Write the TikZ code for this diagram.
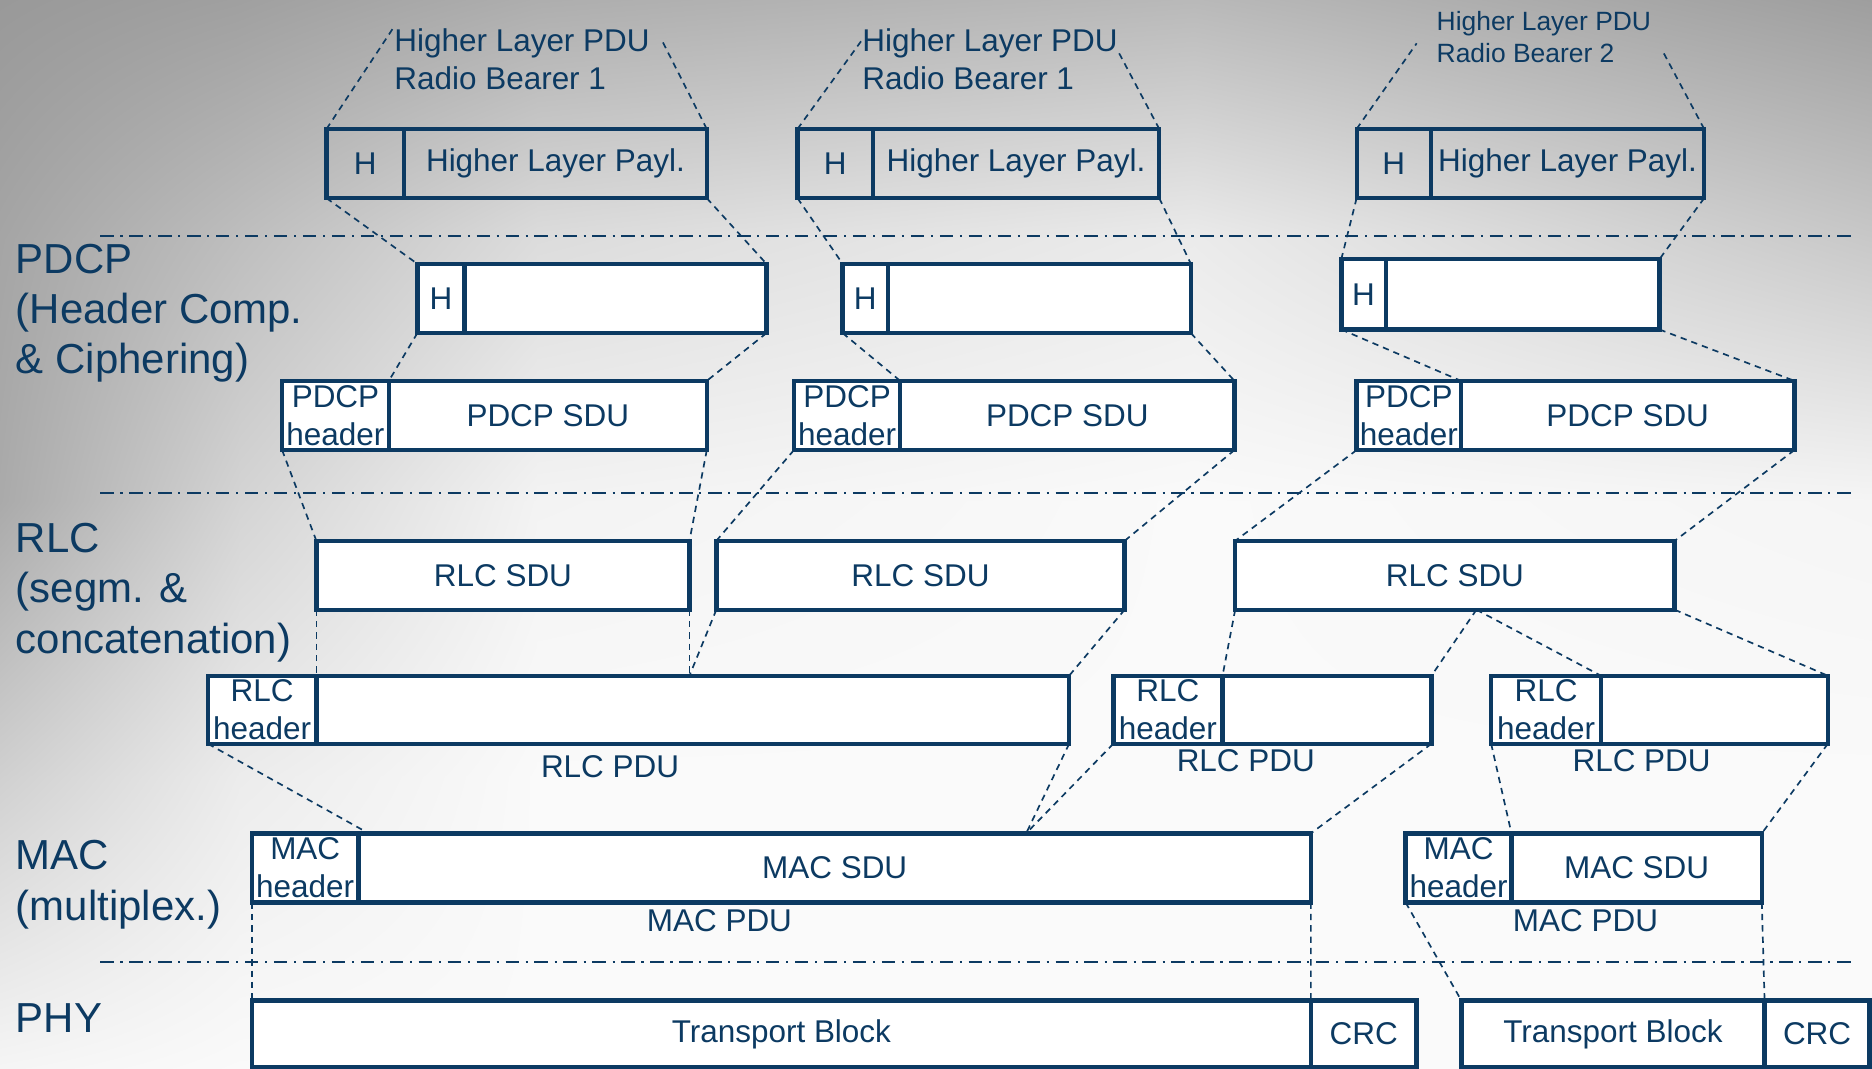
\documentclass[tikz,border=0pt]{standalone}
\usepackage{fontspec}
\setmainfont{Liberation Sans}
\usetikzlibrary{calc,shadings}
\definecolor{navy}{HTML}{0C3A62}
% background grid grays (row = y level, col = x level)
\definecolor{bg00}{gray}{0.600}\definecolor{bg01}{gray}{0.627}\definecolor{bg02}{gray}{0.682}\definecolor{bg03}{gray}{0.725}\definecolor{bg04}{gray}{0.620}
\definecolor{bg10}{gray}{0.647}\definecolor{bg11}{gray}{0.745}\definecolor{bg12}{gray}{0.863}\definecolor{bg13}{gray}{0.922}\definecolor{bg14}{gray}{0.784}
\definecolor{bg20}{gray}{0.667}\definecolor{bg21}{gray}{0.831}\definecolor{bg22}{gray}{0.953}\definecolor{bg23}{gray}{0.980}\definecolor{bg24}{gray}{0.961}
\definecolor{bg30}{gray}{0.816}\definecolor{bg31}{gray}{0.925}\definecolor{bg32}{gray}{0.980}\definecolor{bg33}{gray}{0.980}\definecolor{bg34}{gray}{0.980}
\definecolor{bg40}{gray}{0.961}\definecolor{bg41}{gray}{0.980}\definecolor{bg42}{gray}{0.980}\definecolor{bg43}{gray}{0.980}\definecolor{bg44}{gray}{0.980}
\tikzset{
  cellbox/.style={draw=navy, line width=2.1pt, fill=white, inner sep=0pt, outer sep=0pt,
    text=navy, font=\fontsize{15}{18.2}\selectfont, align=center, rectangle},
  topcell/.style={cellbox, fill=none, line width=2pt},
  geo/.style n args={4}{at={({(#1+#3)/2},{(#2+#4)/2})},
    minimum width={(#3-#1)*0.02cm}, minimum height={(#4-#2)*0.02cm}},
  conn/.style={draw=navy, line width=0.8pt, dash pattern=on 3pt off 2.4pt},
  sepline/.style={draw=navy, line width=1pt, dash pattern=on 6.4pt off 3.2pt on 1pt off 3.2pt},
  layerlbl/.style={text=navy, anchor=base west, align=left, inner sep=0pt,
    font=\fontsize{20}{23.9}\selectfont},
  pdulbl/.style={text=navy, anchor=base west, align=left, inner sep=0pt,
    font=\fontsize{15}{18.2}\selectfont},
  smallpdulbl/.style={pdulbl, font=\fontsize{12.6}{15.3}\selectfont},
  boxlbl/.style={text=navy, inner sep=0pt, font=\fontsize{15}{18.2}\selectfont},
  tile/.style n args={4}{upper left=#1, upper right=#2, lower left=#3, lower right=#4}
}
\begin{document}
\begin{tikzpicture}[x=0.02cm, y=-0.02cm]
\useasboundingbox (0,0) rectangle (1568,895);
% background
\begin{scope}
\clip (0,0) rectangle (1568,895);
\shade[tile={bg00}{bg01}{bg10}{bg11}] (0,0) rectangle (201,201);
\shade[tile={bg01}{bg02}{bg11}{bg12}] (200,0) rectangle (451,201);
\shade[tile={bg02}{bg03}{bg12}{bg13}] (450,0) rectangle (1001,201);
\shade[tile={bg03}{bg04}{bg13}{bg14}] (1000,0) rectangle (1568,201);
\shade[tile={bg10}{bg11}{bg20}{bg21}] (0,200) rectangle (201,421);
\shade[tile={bg11}{bg12}{bg21}{bg22}] (200,200) rectangle (451,421);
\shade[tile={bg12}{bg13}{bg22}{bg23}] (450,200) rectangle (1001,421);
\shade[tile={bg13}{bg14}{bg23}{bg24}] (1000,200) rectangle (1568,421);
\shade[tile={bg20}{bg21}{bg30}{bg31}] (0,420) rectangle (201,651);
\shade[tile={bg21}{bg22}{bg31}{bg32}] (200,420) rectangle (451,651);
\shade[tile={bg22}{bg23}{bg32}{bg33}] (450,420) rectangle (1001,651);
\shade[tile={bg23}{bg24}{bg33}{bg34}] (1000,420) rectangle (1568,651);
\shade[tile={bg30}{bg31}{bg40}{bg41}] (0,650) rectangle (201,895);
\shade[tile={bg31}{bg32}{bg41}{bg42}] (200,650) rectangle (451,895);
\shade[tile={bg32}{bg33}{bg42}{bg43}] (450,650) rectangle (1001,895);
\shade[tile={bg33}{bg34}{bg43}{bg44}] (1000,650) rectangle (1568,895);
\end{scope}
% layer separators
\draw[sepline] (84,198) -- (1555,198);
\draw[sepline] (84,413) -- (1555,413);
\draw[sepline] (84,806) -- (1555,806);
% layer labels (base = last line)
\node[layerlbl] (lpdcp) at (13,313) {PDCP\\(Header Comp.\\\& Ciphering)};
\node[layerlbl] (lrlc) at (13,547) {RLC\\(segm. \&\\concatenation)};
\node[layerlbl] (lmac) at (13,770.6) {MAC\\(multiplex.)};
\node[layerlbl] (lphy) at (13,865) {PHY};
% higher layer PDU labels
\node[pdulbl] (hl1) at (330,75) {Higher Layer PDU\\Radio Bearer 1};
\node[pdulbl] (hl2) at (722,75) {Higher Layer PDU\\Radio Bearer 1};
\node[smallpdulbl] (hl3) at (1203,52.5) {Higher Layer PDU\\Radio Bearer 2};
\coordinate (l1a) at (329,24);
\coordinate (l1b) at (555,35);
\coordinate (l2a) at (722,33.5);
\coordinate (l2b) at (936,42);
\coordinate (l3a) at (1186.6,36.3);
\coordinate (l3b) at (1391.8,41.3);
% top row
\node[topcell, geo={273.5}{108}{338.5}{166}] (h1h) {H};
\node[topcell, geo={338.5}{108}{592}{166}] (h1b) {Higher Layer Payl.};
\node[topcell, geo={668}{108}{731}{166}] (h2h) {H};
\node[topcell, geo={731}{108}{971}{166}] (h2b) {Higher Layer Payl.};
\node[topcell, geo={1136.3}{108}{1198.6}{166}] (h3h) {H};
\node[topcell, geo={1198.6}{108}{1427.4}{166}] (h3b) {Higher Layer Payl.};
% PDCP compressed
\node[cellbox, geo={349.6}{221}{389}{279}] (p1h) {H};
\node[cellbox, geo={389}{221}{642}{279}] (p1b) {};
\node[cellbox, geo={705.8}{221}{743.8}{279}] (p2h) {H};
\node[cellbox, geo={743.8}{221}{997.5}{279}] (p2b) {};
\node[cellbox, geo={1123.5}{217}{1160.8}{276}] (p3h) {H};
\node[cellbox, geo={1160.8}{217}{1390}{276}] (p3b) {};
% PDCP SDU
\node[cellbox, geo={236.3}{319}{325.7}{377}] (s1h) {PDCP\\header};
\node[cellbox, geo={325.7}{319}{592}{377}] (s1b) {PDCP SDU};
\node[cellbox, geo={665}{319}{754}{377}] (s2h) {PDCP\\header};
\node[cellbox, geo={754}{319}{1034}{377}] (s2b) {PDCP SDU};
\node[cellbox, geo={1136.3}{319}{1223.7}{377}] (s3h) {PDCP\\header};
\node[cellbox, geo={1223.7}{319}{1503}{377}] (s3b) {PDCP SDU};
% RLC SDU
\node[cellbox, geo={265}{453}{577.5}{510.7}] (r1) {RLC SDU};
\node[cellbox, geo={600}{453}{942}{510.7}] (r2) {RLC SDU};
\node[cellbox, geo={1034.6}{453}{1402.7}{510.7}] (r3) {RLC SDU};
% RLC PDU
\node[cellbox, geo={174.2}{566}{265}{623}] (q1h) {RLC\\header};
\node[cellbox, geo={265}{566}{895.5}{623}] (q1b) {};
\node[cellbox, geo={932.5}{566}{1024}{623}] (q2h) {RLC\\header};
\node[cellbox, geo={1024}{566}{1199}{623}] (q2b) {};
\node[cellbox, geo={1249}{566}{1341}{623}] (q3h) {RLC\\header};
\node[cellbox, geo={1341}{566}{1531}{623}] (q3b) {};
\node[boxlbl] (q1l) at (511,642) {RLC PDU};
\node[boxlbl] (q2l) at (1043.5,637.5) {RLC PDU};
\node[boxlbl] (q3l) at (1375,637.5) {RLC PDU};
% MAC
\node[cellbox, geo={211}{698}{300.3}{756}] (m1h) {MAC\\header};
\node[cellbox, geo={300.3}{698}{1098}{756}] (m1b) {MAC SDU};
\node[cellbox, geo={1177.4}{698}{1266}{756}] (m2h) {MAC\\header};
\node[cellbox, geo={1266}{698}{1475.7}{756}] (m2b) {MAC SDU};
\node[boxlbl] (m1l) at (602.6,771) {MAC PDU};
\node[boxlbl] (m2l) at (1328,771) {MAC PDU};
% PHY
\node[cellbox, geo={211}{838}{1098}{894}] (t1) {Transport Block};
\node[cellbox, geo={1098}{838}{1186.5}{894}] (c1) {CRC};
\node[cellbox, geo={1224}{838}{1478}{894}] (t2) {Transport Block};
\node[cellbox, geo={1478}{838}{1566}{894}] (c2) {CRC};
% helper coordinates
\coordinate (r3m) at ($(r3.south)+(18,0)$);
\coordinate (qj) at (r1.south east |- q1b.north);
\coordinate (mx) at ($(m1b.north west)+(559.2,0)$);
\coordinate (mh) at ($(m1b.north west)+(8.5,0)$);
% connectors
\draw[conn] (h1h.north west) -- (l1a);
\draw[conn] (h1b.north east) -- (l1b);
\draw[conn] (h2h.north west) -- (l2a);
\draw[conn] (h2b.north east) -- (l2b);
\draw[conn] (h3h.north west) -- (l3a);
\draw[conn] (h3b.north east) -- (l3b);
\draw[conn] (h1h.south west) -- (p1h.north west);
\draw[conn] (h1b.south east) -- (p1b.north east);
\draw[conn] (h2h.south west) -- (p2h.north west);
\draw[conn] (h2b.south east) -- (p2b.north east);
\draw[conn] (h3h.south west) -- (p3h.north west);
\draw[conn] (h3b.south east) -- (p3b.north east);
\draw[conn] (p1h.south west) -- (s1b.north west);
\draw[conn] (p1b.south east) -- (s1b.north east);
\draw[conn] (p2h.south west) -- (s2b.north west);
\draw[conn] (p2b.south east) -- (s2b.north east);
\draw[conn] (p3h.south west) -- (s3b.north west);
\draw[conn] (p3b.south east) -- (s3b.north east);
\draw[conn] (s1h.south west) -- (r1.north west);
\draw[conn] (s1b.south east) -- (r1.north east);
\draw[conn] (s2h.south west) -- (r2.north west);
\draw[conn] (s2b.south east) -- (r2.north east);
\draw[conn] (s3h.south west) -- (r3.north west);
\draw[conn] (s3b.south east) -- (r3.north east);
\draw[conn] (r1.south west) -- (q1b.north west);
\draw[conn] (r1.south east) -- (qj);
\draw[conn] (r2.south west) -- (qj);
\draw[conn] (r2.south east) -- (q1b.north east);
\draw[conn] (r3.south west) -- (q2b.north west);
\draw[conn] (r3m) -- (q2b.north east);
\draw[conn] (r3m) -- (q3b.north west);
\draw[conn] (r3.south east) -- (q3b.north east);
\draw[conn] (q1h.south west) -- (mh);
\draw[conn] (q1b.south east) -- (mx);
\draw[conn] (q2h.south west) -- (mx);
\draw[conn] (q2b.south east) -- (m1b.north east);
\draw[conn] (q3h.south west) -- (m2b.north west);
\draw[conn] (q3b.south east) -- (m2b.north east);
\draw[conn] (m1h.south west) -- (t1.north west);
\draw[conn] (m1b.south east) -- (t1.north east);
\draw[conn] (m2h.south west) -- (t2.north west);
\draw[conn] (m2b.south east) -- (t2.north east);
\end{tikzpicture}
\end{document}
